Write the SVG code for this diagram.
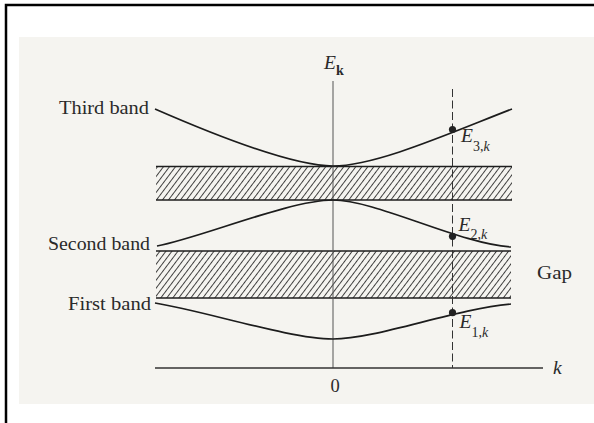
<svg xmlns="http://www.w3.org/2000/svg" width="594" height="423" viewBox="0 0 594 423">
<style>
.lbl{font-family:"Liberation Serif","Times New Roman",serif;font-size:18.5px;fill:#2a2a2a}
.it{font-style:italic}
.big{font-size:19.5px}
.sub{font-size:14px}
.band{fill:none;stroke:#1c1c1c;stroke-width:1.7}
.edge{stroke:#1e1e1e;stroke-width:1.3}
</style>
<defs>
<pattern id="hatch" patternUnits="userSpaceOnUse" width="4.8" height="10" patternTransform="rotate(37)">
<line x1="0.5" y1="-2" x2="0.5" y2="12" stroke="#1e1e1e" stroke-width="0.85"/>
</pattern>
</defs>
<rect x="0" y="0" width="594" height="423" fill="#ffffff"/>
<path d="M6 430 V5 H600" fill="none" stroke="#000" stroke-width="2.5"/>
<rect x="19" y="37" width="580" height="367" fill="#f5f4f0"/>

<g id="gap-upper">
<rect x="156" y="166.5" width="356" height="33.5" fill="url(#hatch)"/>
<line class="edge" x1="156" y1="166.5" x2="512" y2="166.5"/>
<line class="edge" x1="156" y1="200" x2="512" y2="200"/>
</g>
<g id="gap-lower">
<rect x="156" y="251" width="355" height="47" fill="url(#hatch)"/>
<line class="edge" x1="156" y1="251" x2="511" y2="251"/>
<line class="edge" x1="156" y1="298" x2="511" y2="298"/>
</g>

<g id="axes">
<line x1="333" y1="81" x2="333" y2="368" stroke="#555" stroke-width="1"/>
<line x1="155" y1="368" x2="543" y2="368" stroke="#333" stroke-width="1.3"/>
<line x1="452.5" y1="89" x2="452.5" y2="368" stroke="#333" stroke-width="1" stroke-dasharray="8 3.5"/>
</g>

<g id="third-band">
<path class="band" d="M155 109 C210 133 290 166 333 166 C376 166 450 133 512 109"/>
<circle cx="452.5" cy="129.5" r="3.6" fill="#222"/>
</g>
<g id="second-band">
<path class="band" d="M157 246 C200 238 290 200 333 200 C376 200 460 244 511 247"/>
<circle cx="452.5" cy="236.3" r="3.6" fill="#222"/>
</g>
<g id="first-band">
<path class="band" d="M155 303 C205 311 290 339 333 339 C376 339 455 309 511 304"/>
<circle cx="452.5" cy="312.7" r="3.6" fill="#222"/>
</g>

<g id="labels">
<text class="lbl" x="59" y="114" textLength="90" lengthAdjust="spacingAndGlyphs">Third band</text>
<text class="lbl" x="48" y="250" textLength="102" lengthAdjust="spacingAndGlyphs">Second band</text>
<text class="lbl" x="68" y="310" textLength="83" lengthAdjust="spacingAndGlyphs">First band</text>
<text class="lbl" x="537" y="279" textLength="35" lengthAdjust="spacingAndGlyphs">Gap</text>
<text class="lbl" x="330.5" y="391.5">0</text>
<text class="lbl it big" x="553" y="374">k</text>
<text class="lbl big" x="324" y="68.5"><tspan class="it">E</tspan><tspan class="sub" font-weight="bold" dy="6">k</tspan></text>
<text class="lbl big" x="461" y="142.3"><tspan class="it">E</tspan><tspan class="sub" dy="8.4">3,<tspan class="it">k</tspan></tspan></text>
<text class="lbl big" x="458.5" y="231"><tspan class="it">E</tspan><tspan class="sub" dy="8.3">2,<tspan class="it">k</tspan></tspan></text>
<text class="lbl big" x="459.5" y="328.3"><tspan class="it">E</tspan><tspan class="sub" dy="8.4">1,<tspan class="it">k</tspan></tspan></text>
</g>
</svg>
